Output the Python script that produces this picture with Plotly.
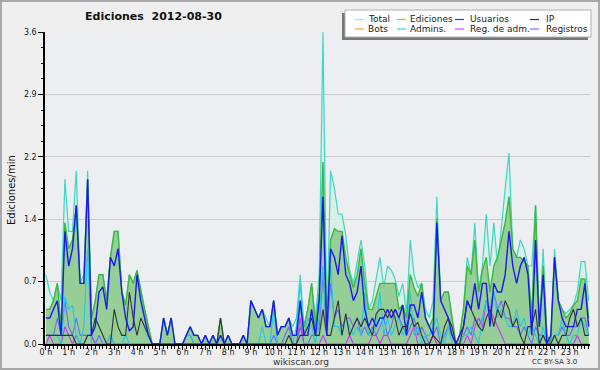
import plotly.graph_objects as go

# 10-minute slots over the day (hours)
slots = [i / 6 for i in range(144)]

hour_ticks = list(range(24))
hour_labels = [f"{h} h" for h in hour_ticks]
y_ticks = [0, 0.72, 1.44, 2.16, 2.88, 3.6]
y_labels = ["0.0", "0.7", "1.4", "2.2", "2.9", "3.6"]

total = [
    0.8, 0.6, 0.5, 0.7, 0.5, 1.9, 1.3, 1.3, 2.0, 0.7, 0.8, 2.0,
    0.3, 0.5, 0.8, 0.8, 0.5, 1.0, 1.3, 1.3, 0.6, 0.45, 0.8, 0.7,
    0.85, 0.6, 0.4, 0.2, 0, 0, 0, 0.3, 0.1, 0.3, 0, 0,
    0, 0.1, 0.2, 0.1, 0.1, 0, 0.1, 0, 0.1, 0, 0.3, 0,
    0.1, 0, 0, 0, 0.1, 0, 0.5, 0.4, 0.3, 0.4, 0.3, 0.2,
    0.5, 0.1, 0.2, 0.2, 0.3, 0.2, 0.3, 0.8, 0.2, 0.4, 0.7, 0.3,
    0.8, 3.6, 0.2, 2.0, 1.8, 1.5, 1.5, 1.25, 0.85, 0.7, 0.95, 1.2,
    0.9, 0.4, 0.5, 0.75, 1.0, 0.65, 0.9, 0.85, 0.75, 0.55, 0.7, 0.35,
    1.2, 0.8, 0.65, 0.7, 0.4, 0.3, 0.5, 1.7, 0.5, 0.6, 0.6, 0.3,
    0, 0.1, 0.4, 1.0, 0.8, 1.4, 0.6, 0.9, 1.5, 0.9, 1.4, 0.9,
    1.4, 1.8, 2.2, 1.1, 1.0, 1.2, 1.1, 0.9, 0.9, 1.6, 0.2, 1.1,
    0.1, 0.0, 1.1, 0.5, 0.4, 0.35, 0.4, 0.45, 0.6, 0.95, 0.95, 0.5,
]
ediciones = [
    0.4, 0.4, 0.5, 0.7, 0.2, 1.4, 1.1, 1.2, 1.6, 0.7, 0.7, 1.9,
    0.3, 0.5, 0.8, 0.8, 0.5, 1.0, 1.3, 1.3, 0.6, 0.45, 0.8, 0.7,
    0.85, 0.6, 0.4, 0.2, 0, 0, 0, 0.3, 0.1, 0.3, 0, 0,
    0, 0.1, 0.2, 0.1, 0.1, 0, 0.1, 0, 0.1, 0, 0.3, 0,
    0.1, 0, 0, 0, 0.1, 0, 0.5, 0.4, 0.3, 0.4, 0.2, 0.2,
    0.5, 0.1, 0.2, 0.2, 0.3, 0.1, 0.1, 0.5, 0.2, 0.4, 0.7, 0.2,
    0.6, 2.1, 0.2, 1.2, 1.33, 1.3, 1.3, 1.0, 0.8, 0.65, 0.8, 1.1,
    0.7, 0.4, 0.4, 0.55, 0.7, 0.7, 0.7, 0.7, 0.7, 0.4, 0.45, 0.3,
    0.8, 0.65, 0.55, 0.7, 0.3, 0.2, 0.3, 1.45, 0.5, 0.6, 0.6, 0.3,
    0, 0.1, 0.4, 0.9, 0.8, 1.2, 0.6, 0.85, 1.0, 0.6, 0.9, 1.0,
    1.2, 1.4, 1.7, 1.1, 1.0, 1.0, 0.95, 0.9, 0.3, 1.6, 0.2, 0.9,
    0.1, 0.0, 1.0, 0.5, 0.4, 0.3, 0.35, 0.45, 0.5, 0.75, 0.75, 0.3,
]
usuarios = [
    0.3, 0.3, 0.4, 0.5, 0.1, 1.3, 0.9, 1.1, 1.6, 0.7, 0.7, 1.9,
    0.1, 0.2, 0.6, 0.66, 0.4, 1.0, 0.9, 1.1, 0.6, 0.3, 0.15, 0.2,
    0.8, 0.5, 0.3, 0.1, 0, 0, 0, 0.3, 0.1, 0.3, 0, 0,
    0, 0.1, 0.2, 0.1, 0.1, 0, 0.1, 0, 0.1, 0, 0.1, 0,
    0.1, 0, 0, 0, 0.1, 0, 0.5, 0.4, 0.3, 0.4, 0.2, 0.2,
    0.5, 0.1, 0.2, 0.2, 0.3, 0.1, 0.1, 0.5, 0.1, 0.1, 0.4, 0.1,
    0.5, 1.7, 0.1, 1.1, 1.0, 0.8, 1.25, 0.8, 0.7, 0.5, 0.6, 0.9,
    0.4, 0.2, 0.3, 0.2, 0.3, 0.3, 0.4, 0.3, 0.4, 0.3, 0.45, 0.1,
    0.45, 0.45, 0.3, 0.6, 0.3, 0.2, 0.1, 1.4, 0.5, 0.4, 0.3, 0.1,
    0, 0.1, 0.2, 0.5, 0.4, 0.7, 0.4, 0.7, 0.7, 0.2, 0.7, 0.6,
    0.6, 0.8, 1.3, 0.9, 0.7, 0.9, 1.0, 0.8, 0.1, 1.2, 0.2, 0.8,
    0.0, 0.1, 1.0, 0.5, 0.3, 0.2, 0.2, 0.2, 0.4, 0.4, 0.7, 0.2,
]
ip = [
    0.1, 0.1, 0.1, 0.1, 0.1, 0.1, 0.1, 0.1, 0, 0, 0, 0.1,
    0.1, 0.3, 0.2, 0.1, 0.0, 0.0, 0.4, 0.2, 0.1, 0.1, 0.6, 0.3,
    0.1, 0.3, 0.2, 0.1, 0, 0, 0, 0, 0, 0, 0, 0,
    0, 0, 0, 0, 0, 0, 0, 0, 0, 0, 0.3, 0,
    0, 0, 0, 0, 0, 0, 0, 0, 0, 0, 0, 0,
    0, 0, 0, 0, 0.1, 0, 0, 0.1, 0.1, 0.2, 0.3, 0.1,
    0.1, 0.4, 0.1, 0.1, 0.3, 0.5, 0.1, 0.35, 0.1, 0.2, 0.3, 0.2,
    0.3, 0.2, 0.1, 0.35, 0.4, 0.4, 0.3, 0.4, 0.3, 0.1, 0.2, 0.2,
    0.35, 0.2, 0.25, 0.1, 0.0, 0.0, 0.1, 0.05, 0.0, 0.2, 0.3, 0.2,
    0.0, 0.0, 0.2, 0.5, 0.4, 0.3, 0.2, 0.15, 0.3, 0.4, 0.2, 0.4,
    0.3, 0.5, 0.4, 0.2, 0.3, 0.1, 0.0, 0.2, 0.2, 0.4, 0.0, 0.1,
    0.0, 0.0, 0.1, 0.0, 0.1, 0.1, 0.3, 0.4, 0.2, 0.3, 0.1, 0.1,
]
bots = [0] * 102 + [0.1] + [0] * 41
admins = [
    0.1, 0.1, 0.1, 0.1, 0.0, 0.55, 0.4, 0.45, 0.1, 0.0, 0.2, 1.1,
    0.0, 0.0, 0.0, 0.0, 0.0, 0.1, 0, 0.0, 0.0, 0.1, 0, 0,
    0, 0, 0, 0, 0, 0, 0, 0, 0, 0, 0, 0,
    0, 0.1, 0.1, 0, 0, 0, 0, 0, 0, 0, 0, 0,
    0, 0, 0, 0, 0, 0, 0, 0, 0, 0.2, 0, 0,
    0.4, 0, 0, 0, 0, 0, 0.2, 0.7, 0.1, 0.3, 0.2, 0.0,
    0.3, 0.9, 0.1, 0.9, 0.2, 0.2, 0.1, 0.3, 0.2, 0.1, 0.2, 0.1,
    0.6, 0.1, 0.1, 0.2, 0.6, 0.1, 0.3, 0.1, 0.2, 0.3, 0.1, 0.2,
    0.6, 0.1, 0.2, 0.0, 0.1, 0.1, 0.2, 0.3, 0.1, 0.0, 0.2, 0.0,
    0, 0, 0.1, 0.1, 0.2, 0.1, 0.0, 0.3, 0.5, 0.3, 0.6, 0.3,
    0.4, 0.3, 0.2, 0.2, 0.4, 0.2, 0.3, 0.1, 0.2, 0.1, 0.0, 0.2,
    0, 0, 0.1, 0.1, 0.3, 0.1, 0.0, 0.1, 0.1, 0.3, 0.2, 0.1,
]
reg_adm = [
    0, 0.1, 0, 0, 0, 0.2, 0.1, 0, 0.1, 0, 0, 0.1,
    0.1, 0, 0, 0, 0, 0, 0, 0, 0, 0, 0, 0,
    0, 0, 0, 0, 0, 0, 0, 0, 0, 0, 0, 0,
    0, 0, 0, 0, 0, 0, 0, 0, 0, 0, 0, 0,
    0, 0, 0, 0, 0, 0, 0, 0, 0, 0, 0, 0,
    0, 0, 0, 0, 0, 0, 0, 0.3, 0, 0, 0, 0,
    0, 0.1, 0, 0, 0, 0, 0, 0, 0.1, 0, 0, 0,
    0, 0, 0.1, 0.1, 0, 0.1, 0.1, 0, 0, 0, 0, 0,
    0.1, 0.2, 0, 0, 0, 0, 0.1, 0, 0, 0, 0, 0,
    0, 0, 0, 0.1, 0, 0.2, 0.3, 0.2, 0.5, 0.4, 0.3, 0.2,
    0.1, 0.0, 0, 0, 0, 0, 0, 0, 0, 0, 0, 0,
    0, 0, 0, 0, 0, 0, 0, 0, 0.1, 0, 0, 0,
]
registros = [
    0.1, 0.1, 0.1, 0.3, 0.1, 0.5, 0.2, 0.1, 0.3, 0.1, 0.1, 0.1,
    0.1, 0, 0.1, 0, 0, 0.1, 0, 0, 0, 0, 0, 0,
    0, 0, 0, 0, 0, 0, 0, 0, 0, 0, 0, 0,
    0, 0.1, 0.1, 0, 0, 0, 0.1, 0, 0, 0, 0, 0,
    0, 0, 0, 0, 0, 0, 0, 0, 0, 0, 0, 0,
    0.1, 0, 0, 0.1, 0.2, 0, 0, 0.2, 0, 0, 0.1, 0.1,
    0.2, 0.8, 0.1, 0.7, 0.3, 0.4, 0.2, 0.3, 0.3, 0.2, 0.3, 0.1,
    0.2, 0.1, 0.2, 0.1, 0.2, 0.3, 0.1, 0.2, 0.4, 0.3, 0.2, 0.1,
    0.2, 0.3, 0.1, 0.2, 0.1, 0.0, 0.1, 0.2, 0.0, 0.1, 0.2, 0.1,
    0, 0, 0.1, 0.2, 0.1, 0.3, 0.2, 0.3, 0.5, 0.4, 0.6, 0.4,
    0.5, 0.3, 0.3, 0.2, 0.2, 0.1, 0.2, 0.1, 0.0, 0.2, 0.1, 0.1,
    0, 0, 0.1, 0.1, 0.2, 0.1, 0.1, 0.2, 0.2, 0.3, 0.3, 0.1,
]

FONT = "DejaVu Sans"
W, H = 600, 370
L, R, T, B = 45, 10, 32, 26
PW, PH = W - L - R, H - T - B


def px(x):
    return (x - L) / PW


def py(y):
    return (H - B - y) / PH


fig = go.Figure()

fig.add_trace(go.Scatter(x=slots, y=total, mode="lines", fill="tozeroy",
                         fillcolor="rgba(214,240,228,0.9)",
                         line=dict(color="#3fd6c6", width=1.2), name="Total"))
fig.add_trace(go.Scatter(x=slots, y=ediciones, mode="lines", fill="tozeroy",
                         fillcolor="rgba(140,200,140,0.88)",
                         line=dict(color="#3cb83c", width=1.4), name="Ediciones"))
fig.add_trace(go.Scatter(x=slots, y=bots, mode="lines",
                         line=dict(color="#ff9a1a", width=1.1), name="Bots"))
fig.add_trace(go.Scatter(x=slots, y=reg_adm, mode="lines",
                         line=dict(color="#cc33ff", width=1.1), name="Reg. de adm."))
fig.add_trace(go.Scatter(x=slots, y=registros, mode="lines",
                         line=dict(color="#6a6aff", width=1.1), name="Registros"))
fig.add_trace(go.Scatter(x=slots, y=admins, mode="lines",
                         line=dict(color="#22c8e6", width=1.1), name="Admins."))
fig.add_trace(go.Scatter(x=slots, y=ip, mode="lines",
                         line=dict(color="#333333", width=1.1), name="IP"))
fig.add_trace(go.Scatter(x=slots, y=usuarios, mode="lines",
                         line=dict(color="#1a1aee", width=1.4), name="Usuarios"))

shapes = []
annotations = []

# outer frame
shapes.append(dict(type="rect", xref="paper", yref="paper",
                   x0=px(1), x1=px(W - 1), y0=py(H - 1), y1=py(1),
                   line=dict(color="#a8a8a8", width=2), fillcolor="rgba(0,0,0,0)",
                   layer="above"))

# legend box with shadow
shapes.append(dict(type="rect", xref="paper", yref="paper",
                   x0=px(342), x1=px(588), y0=py(40), y1=py(13),
                   line=dict(width=0), fillcolor="#777777", layer="above"))
shapes.append(dict(type="rect", xref="paper", yref="paper",
                   x0=px(345), x1=px(591), y0=py(37), y1=py(10),
                   line=dict(color="#b0b0b0", width=1), fillcolor="white", layer="above"))

legend_items = [
    ("Total", "#99e6e0", 0, 0), ("Ediciones", "#77d077", 1, 0),
    ("Usuarios", "#3333ff", 2, 0), ("IP", "#333333", 3, 0),
    ("Bots", "#ffa030", 0, 1), ("Admins.", "#33ccee", 1, 1),
    ("Reg. de adm.", "#dd44ff", 2, 1), ("Registros", "#7777ff", 3, 1),
]
col_line = [355, 397, 455, 530]
col_text = [366, 408, 468, 544]
row_y = [19.5, 29]
for name, color, c, r in legend_items:
    yy = py(row_y[r])
    shapes.append(dict(type="line", xref="paper", yref="paper",
                       x0=px(col_line[c]), x1=px(col_line[c] + 9), y0=yy, y1=yy,
                       line=dict(color=color, width=1.2), layer="above"))
    annotations.append(dict(text=name, xref="paper", yref="paper",
                            x=px(col_text[c]), y=yy, xanchor="left", yanchor="middle",
                            showarrow=False, font=dict(family=FONT, size=9, color="#222")))

annotations += [
    dict(text="<b>Ediciones\u00a0 2012-08-30</b>", xref="paper", yref="paper",
         x=px(153), y=py(17), xanchor="center", yanchor="middle", showarrow=False,
         font=dict(family=FONT, size=11, color="#111")),
    dict(text="Ediciones/min", xref="paper", yref="paper", x=px(11), y=py(190),
         xanchor="center", yanchor="middle", textangle=-90, showarrow=False,
         font=dict(family=FONT, size=10, color="#111")),
    dict(text="wikiscan.org", xref="paper", yref="paper", x=px(301), y=py(362),
         xanchor="center", yanchor="middle", showarrow=False,
         font=dict(family=FONT, size=9, color="#333")),
    dict(text="CC BY-SA 3.0", xref="paper", yref="paper", x=px(554), y=py(362),
         xanchor="center", yanchor="middle", showarrow=False,
         font=dict(family=FONT, size=7, color="#333")),
]

fig.update_layout(
    width=W, height=H,
    margin=dict(l=L, r=R, t=T, b=B),
    paper_bgcolor="#efefef",
    plot_bgcolor="#eceef1",
    showlegend=False,
    shapes=shapes,
    annotations=annotations,
    font=dict(family=FONT, size=9, color="#222"),
    xaxis=dict(range=[-0.04, 23.89], tickvals=hour_ticks, ticktext=hour_labels,
               ticks="outside", ticklen=4, tickcolor="black", tickwidth=1,
               showline=True, linecolor="black", linewidth=1.5,
               showgrid=False, zeroline=False, automargin=False,
               ticklabelstandoff=-4,
               tickfont=dict(family=FONT, size=8, color="#222"),
               minor=dict(dtick=1 / 6, tick0=0, ticklen=3, ticks="outside",
                          tickcolor="black", showgrid=False)),
    yaxis=dict(range=[0, 3.6], tickvals=y_ticks, ticktext=y_labels,
               ticks="outside", ticklen=5, tickcolor="black",
               showline=True, linecolor="black", linewidth=1.5,
               showgrid=True, gridcolor="#cccccc", gridwidth=1, zeroline=False,
               automargin=False,
               tickfont=dict(family=FONT, size=8, color="#222"),
               minor=dict(dtick=0.18, tick0=0, ticklen=2, ticks="outside",
                          tickcolor="black", showgrid=False)),
)

fig.write_html("out.html", config={"displayModeBar": False},
               post_script="document.body.style.margin='0';document.body.style.overflow='hidden';")
